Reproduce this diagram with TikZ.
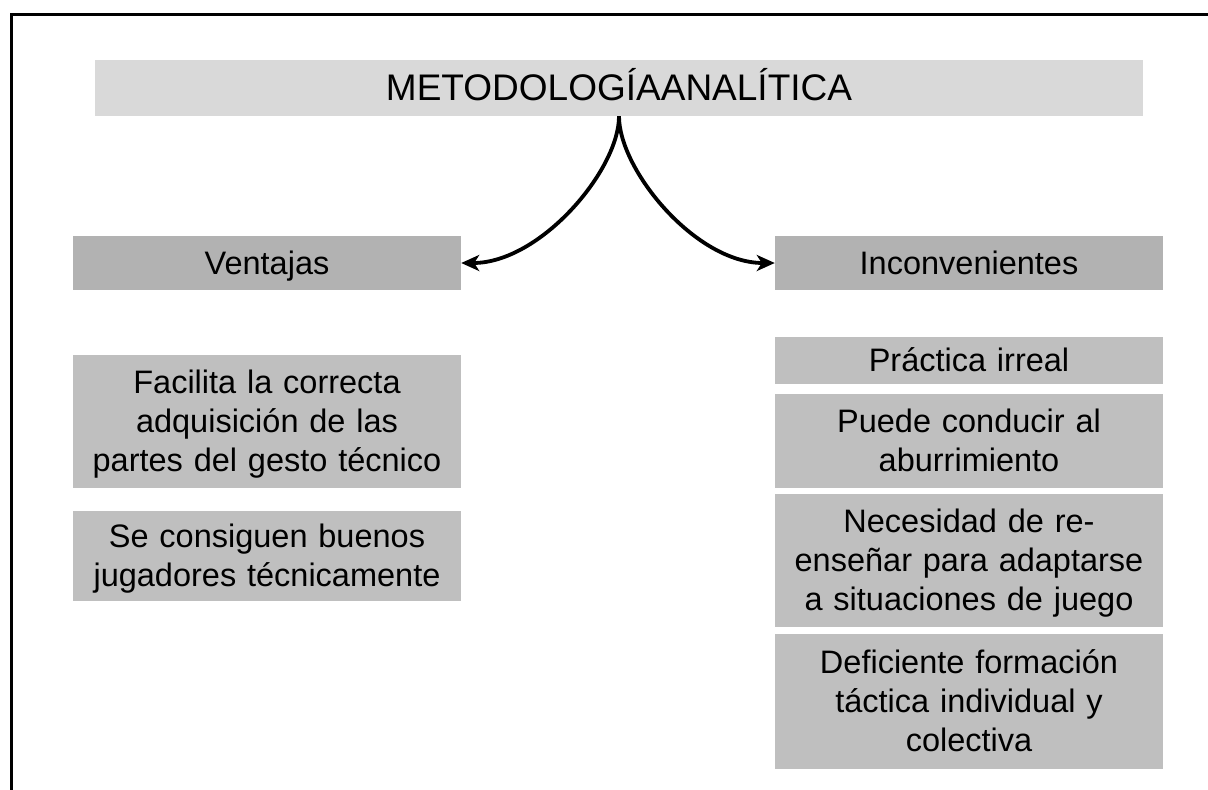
\documentclass[tikz,border=0pt]{standalone}
\usepackage{fontspec}
\setmainfont{Liberation Sans}
\usetikzlibrary{arrows.meta}
\definecolor{titlegray}{HTML}{D9D9D9}
\definecolor{headgray}{HTML}{B2B2B2}
\definecolor{itemgray}{HTML}{BFBFBF}
\newcommand\pptstrut{\rule[-0.212em]{0pt}{1.117em}}
\tikzset{
  box/.style={rectangle, inner sep=0pt, align=center, text=black,
    font=\fontsize{32.5}{39}\selectfont,
    execute at begin node=\pptstrut, execute at end node=\pptstrut},
  titlebox/.style={box, fill=titlegray, minimum width=1048pt, minimum height=56pt,
    font=\fontsize{37}{42}\selectfont},
  headbox/.style={box, fill=headgray, minimum width=388pt, minimum height=54pt, text width=388pt},
  itembox/.style={box, fill=itemgray, minimum width=388pt, text width=388pt},
  conn/.style={line width=3.8pt, -{Stealth[length=18pt,width=16pt,inset=5pt]}},
}
\begin{document}
\begin{tikzpicture}[x=1pt,y=-1pt]
\useasboundingbox (0,0) rectangle (1208,790);
\fill[white] (0,0) rectangle (1208,790);
\draw[line width=3.8pt] (11.5,792) -- (11.5,14.5) -- (1210,14.5);

\node[titlebox] (title) at (619,88) {METODOLOGÍAANALÍTICA};
\node[headbox] (vent) at (267,263) {Ventajas};
\node[headbox] (inc) at (969,263) {Inconvenientes};

\node[itembox, minimum height=133pt] (l1) at (267,421.5) {Facilita la correcta\\adquisición de las\\partes del gesto técnico};
\node[itembox, minimum height=90pt] (l2) at (267,556) {Se consiguen buenos\\jugadores técnicamente};

\node[itembox, minimum height=47pt] (r1) at (969,360.5) {Práctica irreal};
\node[itembox, minimum height=94pt] (r2) at (969,441) {Puede conducir al\\aburrimiento};
\node[itembox, minimum height=133pt] (r3) at (969,560.5) {Necesidad de re-\\enseñar para adaptarse\\a situaciones de juego};
\node[itembox, minimum height=135pt] (r4) at (969,701.5) {Deficiente formación\\táctica individual y\\colectiva};

\draw[conn] (title.south) .. controls +(0,54) and +(79,0) .. (vent.east);
\draw[conn] (title.south) .. controls +(0,54) and +(-79,0) .. (inc.west);
\end{tikzpicture}
\end{document}
